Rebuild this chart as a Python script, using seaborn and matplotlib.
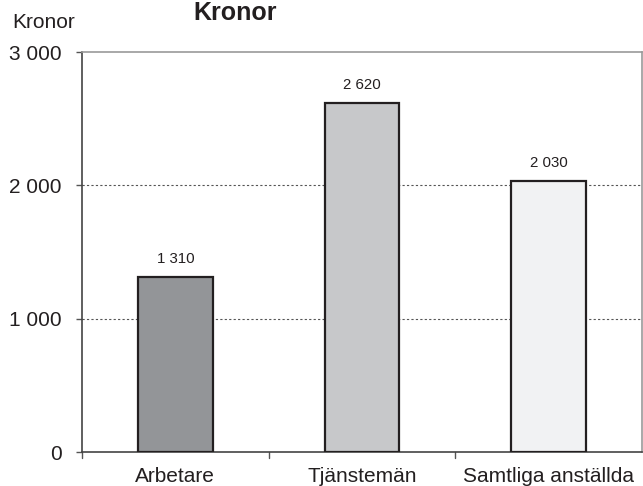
import matplotlib
matplotlib.use("Agg")
import matplotlib.pyplot as plt
import seaborn as sns
import pandas as pd

categories = ["Arbetare", "Tjänstemän", "Samtliga anställda"]
values = [1310, 2620, 2030]
value_labels = ["1 310", "2 620", "2 030"]
bar_colors = ["#939598", "#c7c8ca", "#f1f2f3"]
yticks = [0, 1000, 2000, 3000]
ytick_labels = ["0", "1 000", "2 000", "3 000"]

sns.set_theme(style="white")
plt.rcParams['font.family'] = ['Liberation Sans', 'DejaVu Sans']

df = pd.DataFrame({"cat": categories, "val": values})

fig = plt.figure(figsize=(6.43, 4.86), dpi=100)
ax = fig.add_axes([82/643, 34/486, 560/643, 400/486])

sns.barplot(data=df, x="cat", y="val", hue="cat", palette=bar_colors,
            width=0.4, edgecolor="#231f20", linewidth=1.6, legend=False,
            saturation=1, ax=ax, zorder=3)

ax.set_ylim(0, 3000)
ax.set_xlim(-0.5, 2.5)
ax.set_yticks(yticks)
ax.set_yticklabels(ytick_labels, fontsize=15, color="#231f20")
ax.set_xticks([0, 1, 2])
ax.set_xticklabels(categories, fontsize=15, color="#231f20")
ax.tick_params(axis="x", length=0, pad=11)
ax.tick_params(axis="y", length=4.5, width=1, color="#555555", direction="out", left=True, pad=10)
# category separator ticks
for xb in [-0.5, 0.5, 1.5]:
    ax.plot([xb, xb], [0, -0.014], transform=ax.get_xaxis_transform(),
            color="#555555", lw=1, clip_on=False)
ax.set_xlabel("")
ax.set_ylabel("")

for y in [1000, 2000]:
    ax.axhline(y, color="#555555", lw=0.8, ls=(0, (2, 2)), zorder=1)

for s in ["left", "bottom"]:
    ax.spines[s].set_color("#444444")
    ax.spines[s].set_linewidth(1.2)
for s in ["top", "right"]:
    ax.spines[s].set_visible(True)
    ax.spines[s].set_color("#999999")
    ax.spines[s].set_linewidth(1.2)

for i, (v, lab) in enumerate(zip(values, value_labels)):
    ax.annotate(lab, (i, v), xytext=(0, 8), textcoords="offset points",
                ha="center", va="bottom", fontsize=10.8, color="#231f20")

fig.text(12/643, 1 - 22/486, "Kronor", fontsize=15, color="#231f20", va="center", ha="left")
fig.text(235/643, 1 - 13/486, "Kronor", fontsize=18, fontweight="bold", color="#231f20",
         va="center", ha="center")

fig.savefig("out.png", dpi=100)
